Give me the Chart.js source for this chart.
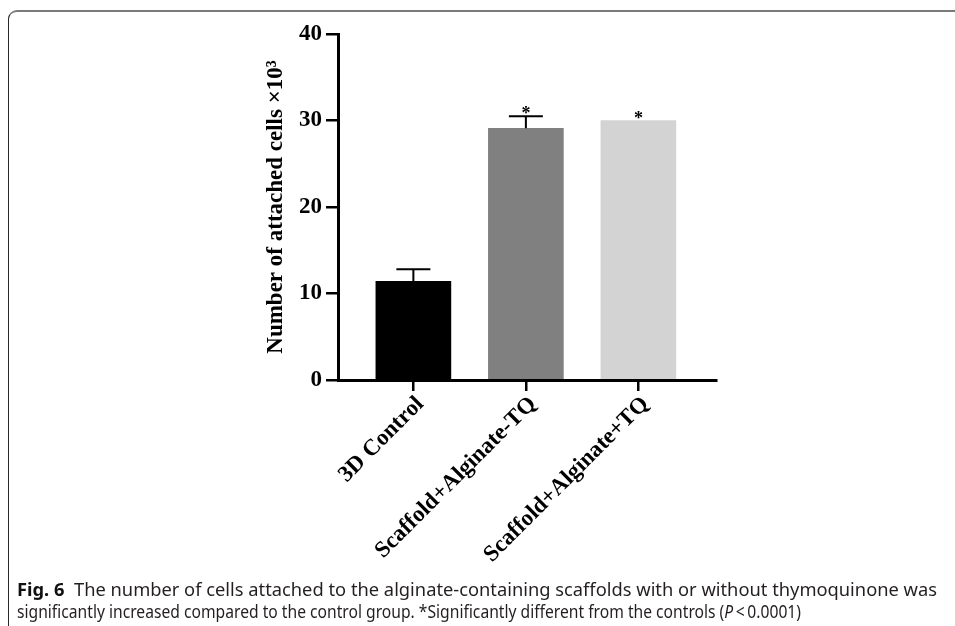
<!DOCTYPE html>
<html>
<head>
<meta charset="utf-8">
<script src="https://cdn.jsdelivr.net/npm/chart.js@4/dist/chart.umd.min.js"></script>
<style>
  html, body { margin:0; padding:0; background:#fff; }
  body { width:955px; height:626px; position:relative; overflow:hidden; }
  #frame { position:absolute; left:8px; top:10px; width:1000px; height:700px;
           border-top:2px solid #7a7a7a; border-left:1.5px solid #2a2a2a; border-top-left-radius:9px; box-sizing:border-box; }
  #wrap { position:absolute; left:0; top:0; width:955px; height:626px; }
  .cap { position:absolute; left:17px; white-space:nowrap; font-family:"Noto Sans", "Open Sans", sans-serif;
         font-size:18px; color:#231f20; transform-origin:0 50%; display:inline-block; }
  .cap b { color:#111; }
</style>
</head>
<body>
<div id="frame"></div>
<div id="wrap"><canvas id="c" width="955" height="626"></canvas></div>
<span class="cap" id="l1" style="top:577px"><b>Fig. 6</b>&nbsp; The number of cells attached to the alginate-containing scaffolds with or without thymoquinone was</span>
<span class="cap" id="l2" style="top:599px">significantly increased compared to the control group. *Significantly different from the controls (<i>P</i>&thinsp;&lt;&thinsp;0.0001)</span>
<script>
const categories = ['3D Control', 'Scaffold+Alginate-TQ', 'Scaffold+Alginate+TQ'];
const means = [11.4, 29.1, 30.0];
const errors = [1.4, 1.4, 0];
const stars = ['', '*', '*'];
const barColors = ['#000000', '#808080', '#d3d3d3'];
const yTicks = [0, 10, 20, 30, 40];

// fit caption lines to widths
function fit(id, w) {
  const el = document.getElementById(id);
  const cw = el.getBoundingClientRect().width;
  el.style.transform = 'scaleX(' + (w / cw) + ')';
}
fit('l1', 920);
fit('l2', 784);

const serif = "'Liberation Serif', 'Times New Roman', serif";

const errorStarPlugin = {
  id: 'errStar',
  afterDatasetsDraw(chart) {
    const ctx = chart.ctx;
    const xs = chart.scales.x, ys = chart.scales.y;
    ctx.save();
    ctx.strokeStyle = '#000';
    ctx.lineWidth = 2;
    means.forEach((m, i) => {
      const x = xs.getPixelForValue(i);
      const yTop = ys.getPixelForValue(m);
      const yErr = ys.getPixelForValue(m + errors[i]);
      if (errors[i] > 0) {
        ctx.beginPath();
        ctx.moveTo(x, yTop);
        ctx.lineTo(x, yErr);
        ctx.moveTo(x - 17, yErr);
        ctx.lineTo(x + 17, yErr);
        ctx.stroke();
      }
      if (stars[i]) {
        ctx.fillStyle = '#000';
        ctx.font = "bold 18px " + serif;
        ctx.textAlign = 'center';
        ctx.textBaseline = 'alphabetic';
        ctx.fillText(stars[i], x, yErr + 3);
      }
    });
    ctx.restore();
  }
};

new Chart(document.getElementById('c'), {
  type: 'bar',
  data: {
    datasets: [{
      data: means.map((v, i) => ({ x: i, y: v })),
      backgroundColor: barColors,
      borderWidth: 0,
      barThickness: 75
    }]
  },
  options: {
    responsive: false,
    animation: false,
    devicePixelRatio: 1,
    layout: { padding: { left: 262, top: 34, right: 239, bottom: 60 } },
    plugins: { legend: { display: false }, tooltip: { enabled: false } },
    scales: {
      x: {
        type: 'linear',
        min: -0.67,
        max: 2.69,
        offset: false,
        afterBuildTicks: (s) => { s.ticks = categories.map((c, i) => ({ value: i })); },
        afterFit: (s) => { s.height = 186; },
        grid: { display: true, drawOnChartArea: false, offset: false, tickLength: 11, color: '#000', lineWidth: 2.5 },
        border: { display: true, color: '#000', width: 3 },
        ticks: {
          autoSkip: false,
          minRotation: 45, maxRotation: 45,
          color: '#000',
          padding: 0,
          labelOffset: 7,
          font: { family: serif, size: 23, weight: 'bold' },
          callback: (v) => categories[v]
        }
      },
      y: {
        min: 0, max: 40,
        afterBuildTicks: (s) => { s.ticks = yTicks.map(v => ({ value: v })); },
        afterFit: (s) => { s.width = 76; },
        grid: { display: true, drawOnChartArea: false, tickLength: 12, color: '#000', lineWidth: 2.5 },
        border: { display: true, color: '#000', width: 3 },
        ticks: {
          color: '#000',
          padding: 4,
          font: { family: serif, size: 23, weight: 'bold' }
        },
        title: {
          display: true,
          text: 'Number of attached cells ×10³',
          color: '#000',
          font: { family: serif, size: 23, weight: 'bold' },
          padding: { top: 0, bottom: 0 }
        }
      }
    }
  },
  plugins: [errorStarPlugin]
});
</script>
</body>
</html>
